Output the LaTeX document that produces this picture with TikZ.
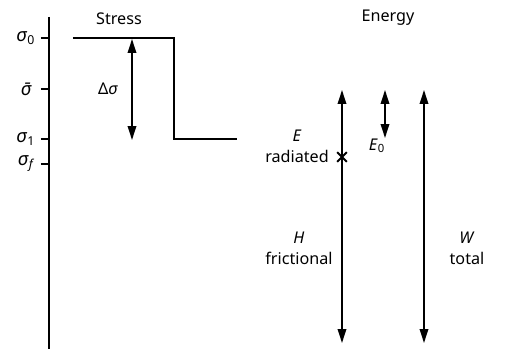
\documentclass[tikz,border=0pt]{standalone}
\usepackage{fontspec}
\setmainfont{Noto Sans}
\usetikzlibrary{arrows.meta,shapes.misc}
\newcommand{\sg}{\textit{σ}}
\begin{document}
\begin{tikzpicture}[x=0.65pt,y=-0.65pt,
    dbl/.style={{Triangle[length=9pt,width=5.5pt]}-{Triangle[length=9pt,width=5.5pt]}, line width=1.2pt},
    lbl/.style={font=\fontsize{10.5}{13.5}\selectfont, align=center},
    ticklbl/.style={font=\fontsize{12}{14}\selectfont, anchor=east, inner sep=1pt}]
  \useasboundingbox (0,0) rectangle (507,349);
  \def\sa{38}
  \def\sb{89}
  \def\sc{139}
  \def\sd{164}
  % Draw the axis
  \draw[line width=0.9pt] (49,17) -- (49,349);
  \draw[line width=0.9pt] (41,\sa) -- (49,\sa);
  \draw[line width=0.9pt] (41,\sb) -- (49,\sb);
  \draw[line width=0.9pt] (41,\sc) -- (49,\sc);
  \draw[line width=0.9pt] (41,\sd) -- (49,\sd);
  \node[ticklbl] (s0) at (37,\sa) {\sg\textsubscript{0}};
  \node[ticklbl] (sbar) at (37,\sb) {\textit{σ̄}};
  \node[ticklbl] (s1) at (37,\sc) {\sg\textsubscript{1}};
  \node[ticklbl] (sf) at (37,\sd) {\sg\textsubscript{\textit{f}}};
  % Titles
  \node[lbl] (stress) at (119,19) {Stress};
  \node[lbl] (energy) at (388,18) {Energy};
  % Draw the stress drop
  \draw[line width=1.4pt] (73,\sa) -- (174,\sa) -- (174,\sc) -- (237,\sc);
  \coordinate (dtop) at (132,39);
  \coordinate (dbot) at (132,140);
  \draw[dbl] (dtop) -- (dbot);
  \node[lbl] (dsig) at (108,\sb) {Δ\sg};
  % Energy arrows
  \coordinate (etop) at (342,90);
  \coordinate (ebot) at (342,343);
  \coordinate (otop) at (385,90);
  \coordinate (obot) at (385,138);
  \coordinate (wtop) at (424,90);
  \coordinate (wbot) at (424,343);
  \draw[dbl] (etop) -- (ebot);
  \draw[dbl] (otop) -- (obot);
  \draw[dbl] (wtop) -- (wbot);
  \node[cross out,draw,line width=1.3pt,minimum size=5pt,inner sep=0pt] (x) at (342,157) {};
  \node[lbl] (erad) at (297,146) {\textit{E}\\radiated};
  \node[lbl] (e0) at (377,146) {\textit{E}\textsubscript{0}};
  \node[lbl] (hfric) at (299,248) {\textit{H}\\frictional};
  \node[lbl] (wtot) at (467,248) {\textit{W}\\total};
\end{tikzpicture}
\end{document}
